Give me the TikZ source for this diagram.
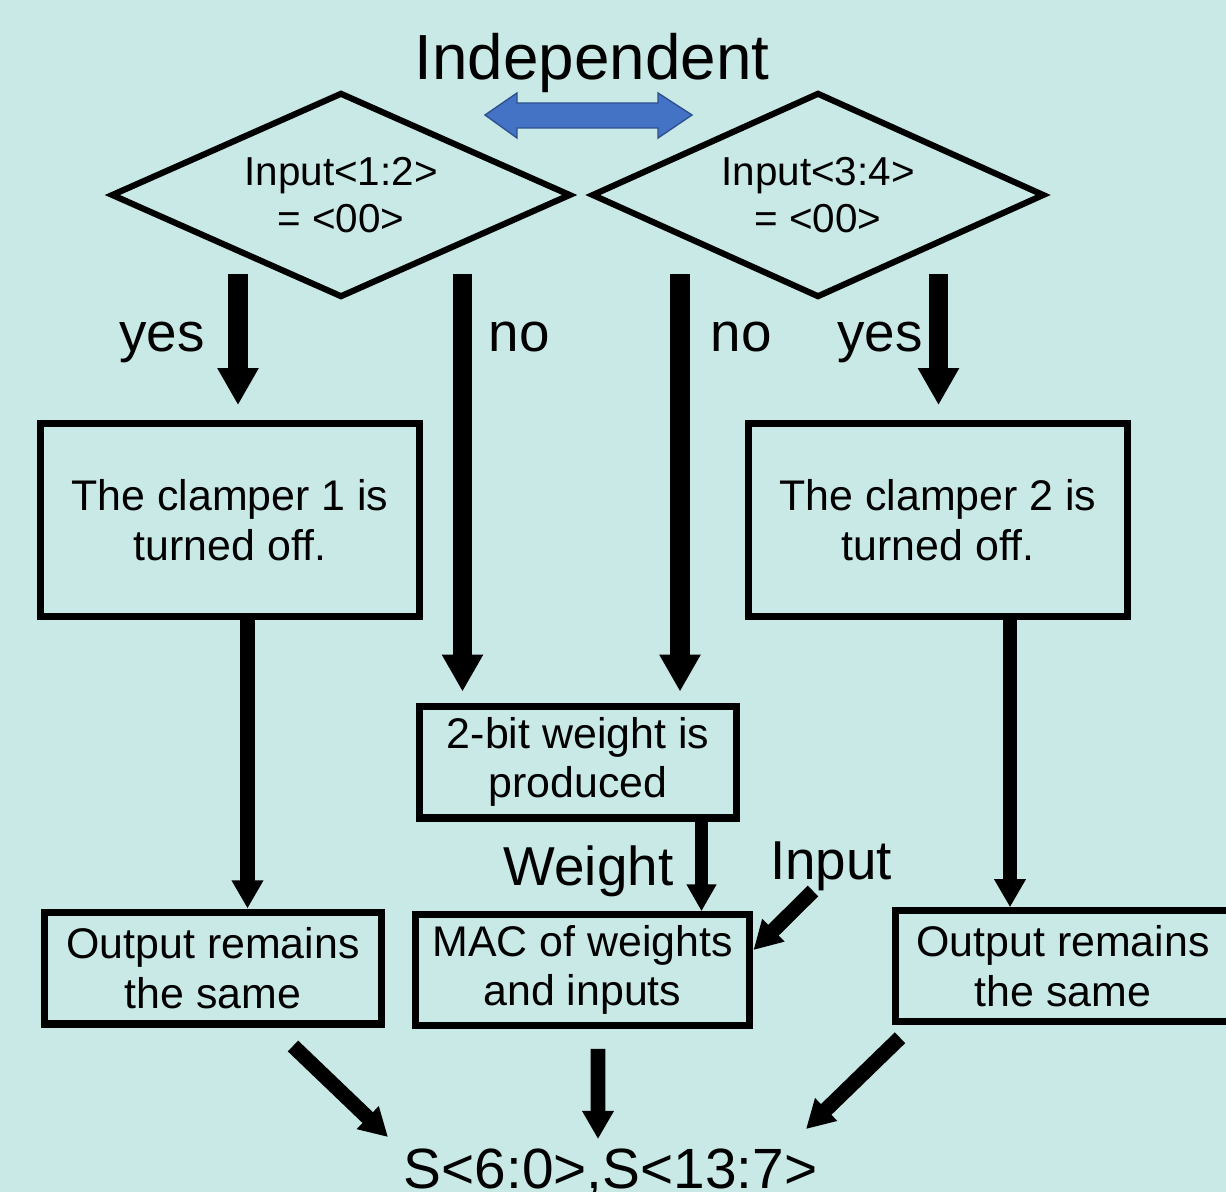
\documentclass[tikz,border=0pt]{standalone}
\usepackage{fontspec}
\setmainfont{Liberation Sans}
\usetikzlibrary{shapes.geometric, arrows.meta, calc}

\definecolor{bgcyan}{RGB}{200,233,230}
\definecolor{arrowblue}{RGB}{68,114,196}
\definecolor{arrowedge}{RGB}{47,82,143}

\begin{document}
\begin{tikzpicture}[x=0.02cm, y=-0.02cm,
    % Define the styles for the boxes and the decisions
    box/.style={draw, line width=4pt, align=center, inner sep=0pt,
        font=\fontsize{24.4}{28.3}\selectfont},
    decision/.style={diamond, aspect=2.24, draw, line width=3.5pt, align=center, inner sep=0pt,
        font=\fontsize{23}{26.6}\selectfont},
    tag/.style={anchor=base, inner sep=0pt, font=\fontsize{31.2}{36}\selectfont},
    % Define the styles for the arrows
    thickarrow/.style={line width=11.3pt, -{Triangle[length=21pt, width=22pt]}},
    flowarrow/.style={line width=8.5pt, -{Triangle[length=16pt, width=17pt]}},
    weightarrow/.style={line width=7.6pt, -{Triangle[length=15.3pt, width=16pt]}}
]

% Background
\clip (0,0) rectangle (1226,1192);
\fill[bgcyan] (0,0) rectangle (1226,1192);

% Define the decisions
\node[decision, minimum width=9.2cm, minimum height=4.1cm] (condA) at (341,195) {Input<1:2>\\= <00>};
\node[decision, minimum width=9.06cm, minimum height=4.1cm] (condB) at (818,195) {Input<3:4>\\= <00>};

% Define the boxes
\node[box, minimum width=7.6cm, minimum height=3.88cm] (clampA) at (230,520) {The clamper 1 is\\turned off.};
\node[box, minimum width=7.6cm, minimum height=3.88cm] (clampB) at (938,520) {The clamper 2 is\\turned off.};
\node[box, minimum width=6.34cm, minimum height=2.24cm] (weightgen) at (578,762) {2-bit weight is\\produced};
\node[box, minimum width=6.7cm, minimum height=2.21cm] (mac) at (582.5,970) {MAC of weights\\and inputs};
\node[box, minimum width=6.76cm, minimum height=2.24cm] (outA) at (213,968) {Output remains\\the same};
\node[box, minimum width=6.72cm, minimum height=2.21cm] (outB) at (1063,966) {Output remains\\the same};

% Add the labels
\node[tag, font=\fontsize{36.3}{42}\selectfont] (indep) at (592,80) {Independent};
\node[tag] (yesA) at (162,352) {yes};
\node[tag] (noA) at (519,352) {no};
\node[tag] (noB) at (741,352) {no};
\node[tag] (yesB) at (880,352) {yes};
\node[tag] (wlabel) at (588.5,885) {Weight};
\node[tag] (inlabel) at (831,879) {Input};
\node[tag, font=\fontsize{32.3}{38}\selectfont] (result) at (610.5,1188) {S<6:0>,S<13:7>};

% The blue double arrow
\filldraw[fill=arrowblue, draw=arrowedge, line width=0.8pt]
    (485,115) -- (517,93) -- (517,103) -- (658,103) -- (658,93) -- (692,115)
    -- (658,138) -- (658,128) -- (517,128) -- (517,138) -- cycle;

% Define the arrow tails under the decisions
\coordinate (yesAtop) at (238,274);
\coordinate (noAtop) at (462.5,274);
\coordinate (noBtop) at (680,274);
\coordinate (yesBtop) at (938.5,274);
\coordinate (inputtail) at (813,891);

% Draw the arrows
\draw[thickarrow, shorten >=8.2pt] (yesAtop) -- (yesAtop |- clampA.north);
\draw[thickarrow, shorten >=6.2pt] (noAtop) -- (noAtop |- weightgen.north);
\draw[thickarrow, shorten >=6.2pt] (noBtop) -- (noBtop |- weightgen.north);
\draw[thickarrow, shorten >=8.2pt] (yesBtop) -- (yesBtop |- clampB.north);

\draw[flowarrow] ($(clampA.south)+(17.5,0)$) -- ($(outA.north)+(34.5,0)$);
\draw[flowarrow] ($(clampB.south)+(72,0)$) -- ($(outB.north)+(-53,0)$);
\draw[weightarrow] ($(weightgen.south)+(123.5,0)$) -- ($(mac.north)+(119,0)$);
\draw[flowarrow] (inputtail) -- ($(mac.east)+(0,-20)$);

% Draw the arrows to the result
\draw[flowarrow] ($(outA.south)+(80,18.5)$) -- ($(result.north)+(-222.5,-11)$);
\draw[flowarrow] ($(mac.south)+(15.5,20)$) -- ($(result.north)+(-12.5,-9)$);
\draw[flowarrow] ($(outB.south)+(-163,13)$) -- ($(result.north)+(195.5,-19)$);

\end{tikzpicture}
\end{document}
